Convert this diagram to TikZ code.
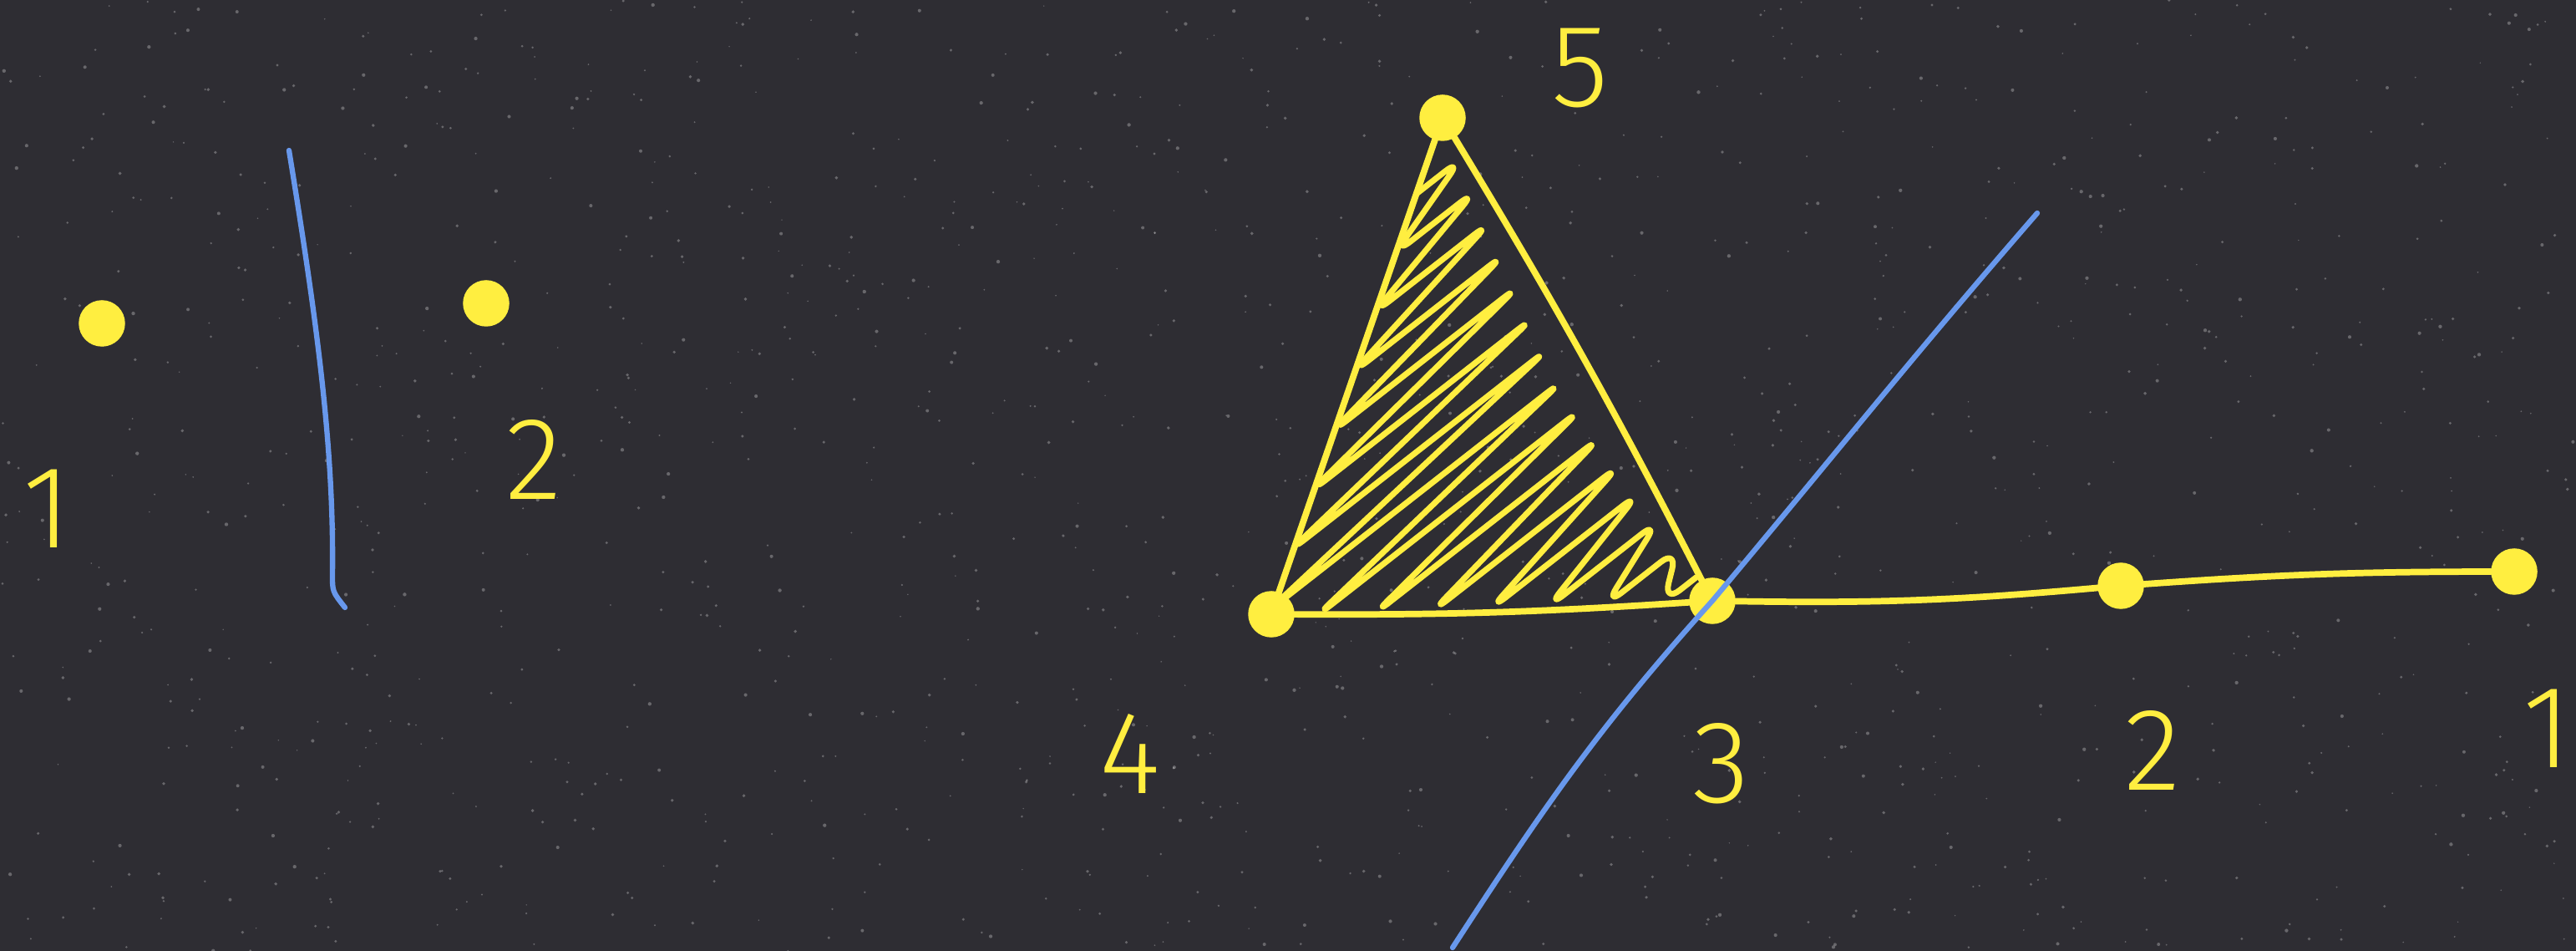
\documentclass[tikz,border=0pt]{standalone}
\usepackage{fontspec}
\usepackage{xcolor}
\usepackage{tikz}
\usetikzlibrary{calc}
\newfontfamily\handfont{Fira Sans Light}

\definecolor{board}{RGB}{46,45,51}
\definecolor{chalkyellow}{RGB}{255,238,64}
\definecolor{chalkblue}{RGB}{104,152,236}

\begin{document}
\begin{tikzpicture}[
    dot/.style={circle,fill=chalkyellow,draw=chalkyellow,line width=1pt,minimum size=0.52cm,inner sep=0pt},
    lab/.style={text=chalkyellow,inner sep=0pt,font=\handfont\fontsize{40}{40}\selectfont},
    chalk/.style={chalkyellow,line width=2.2pt,line cap=round},
    hatchline/.style={chalkyellow,line width=2pt,line cap=round,line join=round,rounded corners=7pt},
    blueline/.style={chalkblue,line width=1.8pt,line cap=round}]
  \useasboundingbox (0,0) rectangle (30.84,11.38);
  \fill[board] (0,0) rectangle (30.84,11.38);
  % chalk dust
  \pgfmathsetseed{42}
  \foreach \i in {1,...,1400}{
    \fill[white,opacity=0.28] ({rnd*30.84},{rnd*11.38}) circle ({0.008+0.014*rnd});
  }

  % left: two points split by a line
  \node[dot] (a1) at (1.22,7.51) {};
  \node[dot] (a2) at (5.82,7.75) {};
  \node[lab] (la1) at (0.57,5.29) {1};
  \node[lab] (la2) at (6.39,5.88) {2};
  \coordinate (st) at (3.46,9.58);
  \coordinate (sm) at (3.98,4.50);
  \coordinate (sb) at (4.13,4.11);
  \draw[blueline] (st) .. controls (3.80,7.50) and (4.00,6.00) .. (sm)
                       .. controls (3.98,4.30) .. (sb);

  % right: triangle and path
  \node[dot] (d5) at (17.27,9.97) {};
  \node[dot] (d4) at (15.22,4.03) {};
  \node[dot] (d3) at (20.50,4.19) {};
  \node[dot] (d2) at (25.39,4.37) {};
  \node[dot] (d1) at (30.10,4.54) {};
  \node[lab] (l5) at (18.92,10.56) {5};
  \node[lab] (l4) at (13.53,2.36) {4};
  \node[lab] (l3) at (20.61,2.24) {3};
  \node[lab] (l2) at (25.77,2.40) {2};
  \node[lab] (l1) at (30.49,2.66) {1};

  % scribble fill
  \foreach \k in {0,...,14}{
    \pgfmathsetmacro{\hatchu}{0.08+\k*0.062}
    \pgfmathsetmacro{\hatchl}{min(\hatchu/0.522,1)}
    \pgfmathsetmacro{\hatchb}{max((\hatchu-0.522)/0.478,0)}
    \coordinate (hl\k) at ($(d5.center)!\hatchl!(d4.center)!\hatchb!(d3.center)$);
    \coordinate (hr\k) at ($(d5.center)!\hatchu!(d3.center)$);
  }
  \draw[hatchline] (hl0) \foreach \k in {0,...,14}{ -- ($(hl\k)!-0.02!(hr\k)$) -- ($(hr\k)!0.06!(hl\k)$) };

  \draw[chalk] (d5) -- (d4);
  \draw[chalk] (d4) to[bend right=2] (d3);
  \draw[chalk] (d5) to[bend left=2] (d3);
  \draw[chalk] (d3) to[bend right=3] (d2);
  \draw[chalk] (d2) to[bend left=2] (d1);

  \coordinate (bt) at (24.39,8.83);
  \coordinate (bb) at (17.39,0.04);
  \draw[blueline] (bb) to[out=57,in=228] (d3.center) to[out=50,in=229] (bt);
\end{tikzpicture}
\end{document}
